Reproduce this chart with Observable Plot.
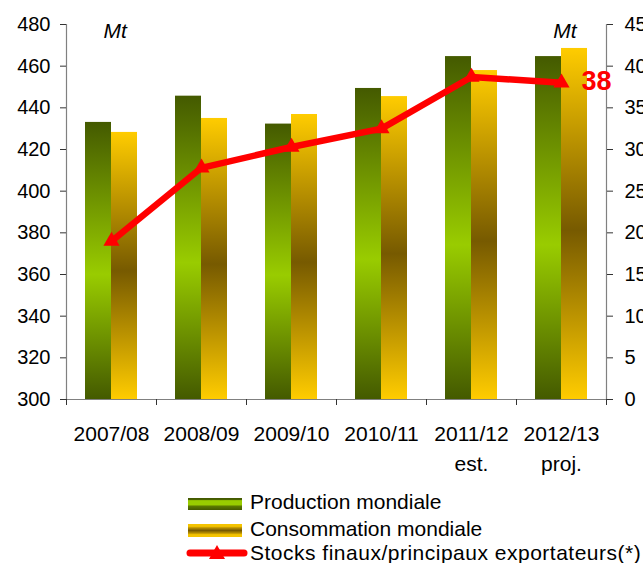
<!DOCTYPE html>
<html>
<head>
<meta charset="utf-8">
<script src="https://cdn.jsdelivr.net/npm/d3@7"></script>
<script src="https://cdn.jsdelivr.net/npm/@observablehq/plot@0.6"></script>
<style>
  html, body { margin: 0; padding: 0; background: #fff; }
  body { font-family: "Liberation Sans", Arial, sans-serif; }
  #wrap { position: relative; width: 643px; height: 563px; overflow: hidden; }
  #chart { position: absolute; left: 0; top: 0; }
  .sw { position: absolute; left: 188px; width: 54px; }
  .lt { position: absolute; left: 250px; font-size: 21px; line-height: 21px; color: #000; white-space: nowrap; }
</style>
</head>
<body>
<div id="wrap">
  <div id="chart"></div>
  <div id="legend"></div>
</div>
<script>
// ---- data ----
const seasons = ["2007/08", "2008/09", "2009/10", "2010/11", "2011/12", "2012/13"];
const seasonNotes = ["", "", "", "", "est.", "proj."];
const production = [433.0, 445.6, 432.2, 449.3, 464.6, 464.6];
const consommation = [428.2, 434.9, 436.8, 445.4, 457.9, 468.5];
const stocks = [19.0, 27.8, 30.3, 32.5, 38.7, 38.0];
const leftTicks = [300, 320, 340, 360, 380, 400, 420, 440, 460, 480];
const rightTicks = [0, 5, 10, 15, 20, 25, 30, 35, 40, 45];
const seriesNames = ["Production mondiale", "Consommation mondiale", "Stocks finaux/principaux exportateurs(*)"];
const unit = "Mt";

// ---- derived ----
const yMin = leftTicks[0], yMax = leftTicks[leftTicks.length - 1];
const rMin = rightTicks[0], rMax = rightTicks[rightTicks.length - 1];
const toLeft = v => yMin + (v - rMin) * (yMax - yMin) / (rMax - rMin);
const rows = seasons.map((s, i) => ({season: s, production: production[i], consommation: consommation[i], stocks: stocks[i]}));

const RED = "#ff0000";
const HALF = 45; // half band width in px

const defs = () => {
  const d = d3.create("svg:defs");
  const mk = (id, stops) => {
    const g = d.append("linearGradient").attr("id", id).attr("x1", 0).attr("x2", 0).attr("y1", 0).attr("y2", 1);
    stops.forEach(([o, c]) => g.append("stop").attr("offset", o).attr("stop-color", c));
  };
  mk("gProd", [[0, "#445a00"], [0.55, "#99cc00"], [1, "#445a00"]]);
  mk("gCons", [[0, "#ffcc00"], [0.52, "#775a00"], [1, "#ffcc00"]]);
  return d.node();
};

const chart = Plot.plot({
  width: 643,
  height: 480,
  marginLeft: 66,
  marginRight: 37,
  marginTop: 24,
  marginBottom: 81,
  style: {fontFamily: "'Liberation Sans', Arial, sans-serif", fontSize: "20px", color: "#000", background: "transparent", overflow: "visible"},
  x: {type: "band", domain: seasons, padding: 0, axis: null},
  y: {domain: [yMin, yMax], axis: null},
  marks: [
    defs,
    Plot.barY(rows, {x: "season", y1: yMin, y2: "production", fill: "url(#gProd)", insetLeft: 19, insetRight: HALF}),
    Plot.barY(rows, {x: "season", y1: yMin, y2: "consommation", fill: "url(#gCons)", insetLeft: HALF, insetRight: 19}),
    // axis lines
    Plot.ruleY([yMin], {stroke: "#808080", strokeWidth: 1.2}),
    Plot.frame({anchor: "left", stroke: "#808080", strokeWidth: 1.2}),
    Plot.frame({anchor: "right", stroke: "#808080", strokeWidth: 1.2}),
    // category boundary ticks
    Plot.ruleX(seasons, {x: d => d, dx: -HALF, y1: yMin, y2: yMin, insetBottom: -6, stroke: "#333"}),
    Plot.ruleX(seasons.slice(-1), {x: d => d, dx: HALF, y1: yMin, y2: yMin, insetBottom: -6, stroke: "#333"}),
    // axes
    Plot.axisY({anchor: "left", ticks: leftTicks, tickSize: 6, tickPadding: 10, fontSize: 20, label: null, stroke: "#333"}),
    Plot.axisY({anchor: "right", ticks: leftTicks, tickFormat: d => String(rightTicks[leftTicks.indexOf(d)]), tickSize: 6, tickPadding: 12, fontSize: 20, label: null, stroke: "#333"}),
    Plot.axisX({tickSize: 0, tickPadding: 20, fontSize: 21, lineHeight: 1.43, label: null,
      tickFormat: d => { const n = seasonNotes[seasons.indexOf(d)]; return n ? d + "\n" + n : d; }}),
    // unit labels
    Plot.text([unit], {text: d => d, frameAnchor: "top-left", dx: 37, dy: 13, lineAnchor: "bottom", textAnchor: "start", fontStyle: "italic", fontSize: 21}),
    Plot.text([unit], {text: d => d, frameAnchor: "top-right", dx: -30, dy: 13, lineAnchor: "bottom", textAnchor: "end", fontStyle: "italic", fontSize: 21}),
    // stocks line
    Plot.line(rows, {x: "season", y: d => toLeft(d.stocks), stroke: RED, strokeWidth: 6.5, strokeLinejoin: "miter", strokeLinecap: "butt"}),
    Plot.dot(rows, {x: "season", y: d => toLeft(d.stocks), symbol: "triangle", r: 6, fill: RED, stroke: null}),
    Plot.text(rows.slice(-1), {x: "season", y: d => toLeft(d.stocks), text: d => String(Math.round(d.stocks)), dx: 20, dy: -1, textAnchor: "start", fontSize: 27, fontWeight: "bold", fill: RED})
  ]
});
document.getElementById("chart").appendChild(chart);

// ---- legend (HTML below the SVG) ----
const lg = document.getElementById("legend");
lg.innerHTML = `
  <div class="sw" style="top:498px;height:12px;background:linear-gradient(to bottom,#445a00 0%,#445a00 12%,#99cc00 22%,#99cc00 55%,#5a7800 70%,#445a00 100%);"></div>
  <div class="lt" style="top:491px;">${seriesNames[0]}</div>
  <div class="sw" style="top:524px;height:13px;background:linear-gradient(to bottom,#f5c400 0%,#f5c400 18%,#b89000 30%,#775a00 50%,#b89000 70%,#f5c400 82%,#f5c400 100%);"></div>
  <div class="lt" style="top:518px;">${seriesNames[1]}</div>
  <svg style="position:absolute;left:184px;top:543px;" width="66" height="20">
    <line x1="6" y1="10" x2="60" y2="10" stroke="${RED}" stroke-width="7" stroke-linecap="round"/>
    <path d="M33,2 L41,16 L25,16 Z" fill="${RED}"/>
  </svg>
  <div class="lt" style="top:542px;letter-spacing:0.5px;">${seriesNames[2]}</div>
`;
</script>
</body>
</html>
